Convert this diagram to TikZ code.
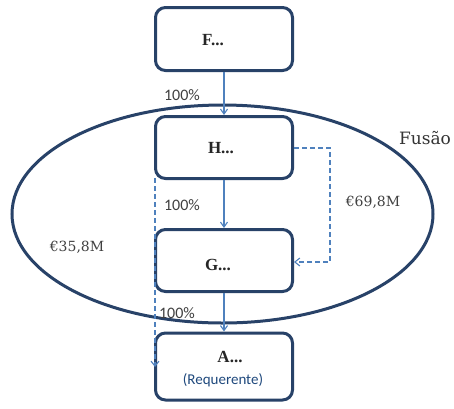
\documentclass[tikz,border=0pt]{standalone}
\usepackage{fontspec}
\setmainfont{Liberation Serif}
\newfontfamily\carl{Carlito}
\newfontfamily\dserif{DejaVu Serif}
\usetikzlibrary{arrows.meta}
\definecolor{navy}{RGB}{40,66,104}
\definecolor{lblue}{RGB}{79,129,189}
\definecolor{reqblue}{RGB}{31,73,125}
\definecolor{txtgray}{RGB}{64,64,64}
\begin{document}
\begin{tikzpicture}[x=1pt,y=-1pt,
  entity/.style={draw=navy,line width=3pt,rounded corners=10pt,fill=white,minimum width=137pt,inner sep=0pt},
  link/.style={draw=lblue,line width=1.1pt,-{Straight Barb[length=5pt,width=7pt]}},
  dlink/.style={draw=lblue,line width=1.1pt,dash pattern=on 5pt off 3pt,-{Straight Barb[length=5pt,width=8pt]}},
  pct/.style={font=\carl\fontsize{16}{18}\selectfont,text=txtgray,inner sep=0pt},
  money/.style={font=\dserif\fontsize{14}{16}\selectfont,text=txtgray,inner sep=0pt},
  bl/.style={font=\bfseries\fontsize{17}{19}\selectfont,text=black!85,inner sep=0pt}]
\useasboundingbox (0,0) rectangle (454,408);
\fill[white] (0,0) rectangle (454,408);
% ellipse
\draw[navy,line width=3pt] (222.5,214) ellipse [x radius=210.5,y radius=109];
% boxes
\node[entity,minimum height=63pt] (F) at (224,39) {};
\node[entity,minimum height=62pt] (H) at (224,147.5) {};
\node[entity,minimum height=62pt] (G) at (224,260.5) {};
\node[entity,minimum height=67pt] (A) at (224,366.5) {};
\node[bl] (Fl) at (213,40) {F...};
\node[bl] (Hl) at (221,148) {H...};
\node[bl] (Gl) at (218,265) {G...};
\node[bl] (Al) at (230,357) {A...};
\node[font=\carl\fontsize{15}{17}\selectfont,text=reqblue,inner sep=0pt] (Ar) at (223,380) {(Requerente)};
% solid arrows
\draw[link] (F.south) -- (H.north);
\draw[link] (H.south) -- (G.north);
\draw[link] (G.south) -- (A.north);
% dashed
\coordinate (r1) at (330,148);
\coordinate (r2) at (330,262);
\draw[dlink] (H.east |- r1) -- (r1) -- (r2) -- (G.east |- r2);
\coordinate (l1) at (155,178);
\coordinate (l2) at (155,367);
\draw[dlink] (l1) -- (l2);
% labels
\node[pct] (p1) at (182,95) {100\%};
\node[pct] (p2) at (182,205) {100\%};
\node[pct] (p3) at (177,313) {100\%};
\node[money] (m1) at (373,202) {€69,8M};
\node[money] (m2) at (77,247) {€35,8M};
\node[font=\dserif\fontsize{17}{19}\selectfont,text=black!80,inner sep=0pt] (fu) at (425,138) {Fusão};
\end{tikzpicture}
\end{document}
